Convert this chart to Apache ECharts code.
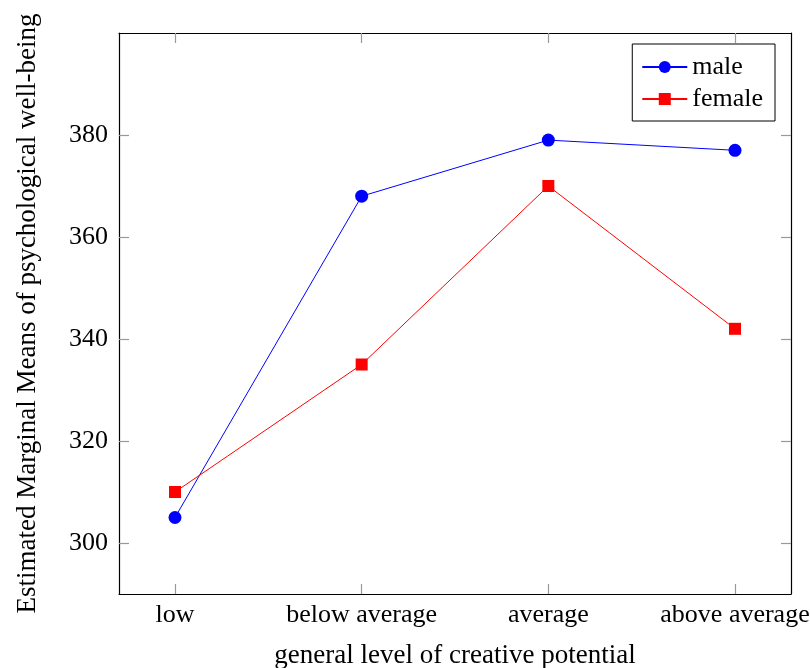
<!DOCTYPE html>
<html><head><meta charset="utf-8">
<script src="https://cdn.jsdelivr.net/npm/echarts@6/dist/echarts.min.js"></script>
<style>html,body{margin:0;padding:0;background:#fff}#c{width:810px;height:668px}</style>
</head><body><div id="c"></div>
<script>
const categories = ['low', 'below average', 'average', 'above average'];
const maleValues = [305, 368, 379, 377];
const femaleValues = [310, 335, 370, 342];
const yTicks = [300, 320, 340, 360, 380];
const xTicks = [0, 1, 2, 3];

const FONT = 'Liberation Serif';
const chart = echarts.init(document.getElementById('c'));
const tickStyle = {show: true, inside: true, length: 10, lineStyle: {color: '#999', width: 1.2}};
const lineAxis = {show: true, onZero: false, lineStyle: {color: '#000', width: 1.2}};
chart.setOption({
  animation: false,
  textStyle: {fontFamily: FONT},
  grid: {left: 119, top: 33, right: 19, bottom: 74, containLabel: false, outerBoundsMode: 'none'},
  legend: {
    right: 35, top: 44, orient: 'vertical', backgroundColor: '#fff',
    borderColor: '#000', borderWidth: 1, padding: [10, 12, 9, 9],
    itemWidth: 45, itemHeight: 15, itemGap: 6,
    textStyle: {fontFamily: FONT, fontSize: 26, color: '#000'},
    data: ['male', 'female']
  },
  xAxis: [{
    type: 'value', min: -0.3, max: 3.3, position: 'bottom',
    axisLine: lineAxis, splitLine: {show: false},
    axisTick: Object.assign({customValues: xTicks}, tickStyle),
    axisLabel: {customValues: xTicks, margin: 8, fontSize: 26, color: '#000', fontFamily: FONT,
      formatter: v => categories[Math.round(v)] || ''},
    name: 'general level of creative potential', nameLocation: 'middle', nameGap: 48,
    nameTextStyle: {fontSize: 27, color: '#000', fontFamily: FONT}
  }, {
    type: 'value', min: -0.3, max: 3.3, position: 'top',
    axisLine: lineAxis, splitLine: {show: false},
    axisTick: Object.assign({customValues: xTicks}, tickStyle),
    axisLabel: {show: false}
  }],
  yAxis: [{
    type: 'value', min: 290, max: 400, position: 'left',
    axisLine: lineAxis, splitLine: {show: false},
    axisTick: Object.assign({customValues: yTicks}, tickStyle),
    axisLabel: {customValues: yTicks, margin: 11, fontSize: 26, color: '#000', fontFamily: FONT},
    name: 'Estimated Marginal Means of psychological well-being', nameLocation: 'middle', nameGap: 78,
    nameTextStyle: {fontSize: 27, color: '#000', fontFamily: FONT}
  }, {
    type: 'value', min: 290, max: 400, position: 'right',
    axisLine: lineAxis, splitLine: {show: false},
    axisTick: Object.assign({customValues: yTicks}, tickStyle),
    axisLabel: {show: false}
  }],
  series: [{
    name: 'male', type: 'line', symbol: 'circle', symbolSize: 13,
    itemStyle: {color: '#0000ff'}, lineStyle: {width: 1, color: '#0000ff'},
    data: maleValues.map((v, i) => [i, v])
  }, {
    name: 'female', type: 'line', symbol: 'rect', symbolSize: 12,
    itemStyle: {color: '#ff0000'}, lineStyle: {width: 1, color: '#ff0000'},
    data: femaleValues.map((v, i) => [i, v])
  }]
});
</script></body></html>
